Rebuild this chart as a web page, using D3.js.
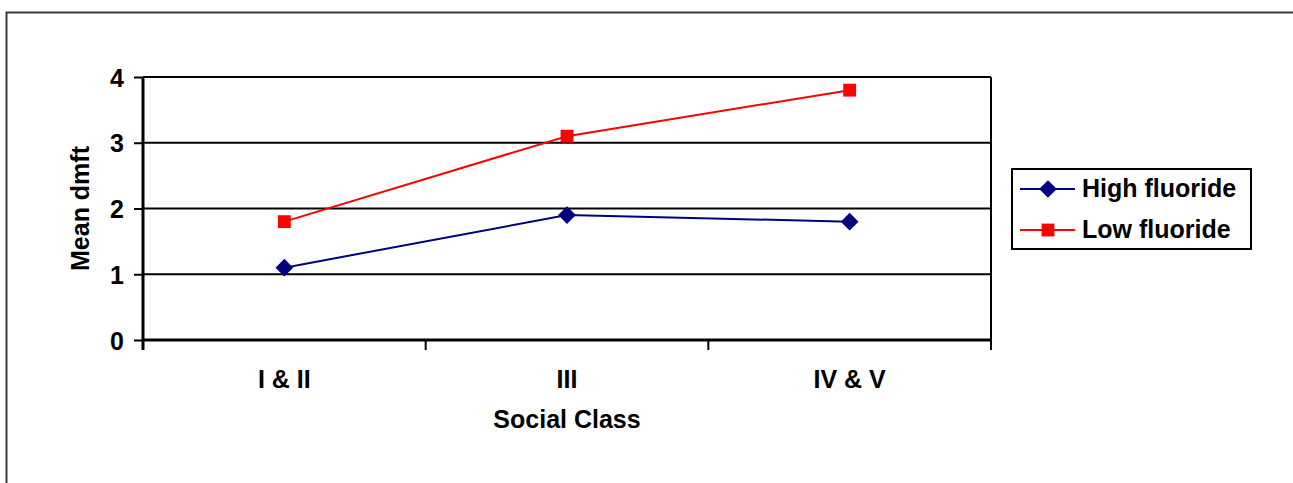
<!DOCTYPE html>
<html>
<head>
<meta charset="utf-8">
<script src="https://cdn.jsdelivr.net/npm/d3@7"></script>
<style>
  html, body { margin: 0; padding: 0; background: #fff; }
  svg { display: block; }
  text { font-family: Arial, "Liberation Sans", sans-serif; font-weight: bold; fill: #000; }
</style>
</head>
<body>
<svg id="chart" width="1293" height="483"></svg>
<script>
// Mean dmft by social class, high vs low fluoride areas
const categories = ["I & II", "III", "IV & V"];
const highFluoride = [1.1, 1.9, 1.8];
const lowFluoride = [1.8, 3.1, 3.8];
const yTicks = [0, 1, 2, 3, 4];

const seriesList = [
  { name: "High fluoride", values: highFluoride, color: "#000080", marker: d3.symbolDiamond2 },
  { name: "Low fluoride", values: lowFluoride, color: "#ff0000", marker: d3.symbolSquare2 }
];

const svg = d3.select("#chart");
const W = 1293, H = 483;
const plot = { left: 143, right: 991, top: 77, bottom: 340 };
const FONT = "25px";

// Outer chart frame
svg.append("rect")
  .attr("x", 6.5).attr("y", 12.5)
  .attr("width", W + 20).attr("height", H + 20)
  .attr("fill", "#fff").attr("stroke", "#3a3a3a").attr("stroke-width", 2);

const x = d3.scaleBand().domain(categories).range([plot.left, plot.right]).padding(0);
const y = d3.scaleLinear().domain([0, 4]).range([plot.bottom, plot.top]);

// Horizontal gridlines
svg.append("g")
  .selectAll("line")
  .data(yTicks)
  .join("line")
  .attr("x1", plot.left).attr("x2", plot.right)
  .attr("y1", d => y(d)).attr("y2", d => y(d))
  .attr("stroke", "#000").attr("stroke-width", 2);

// Right border of plot area
svg.append("line")
  .attr("x1", plot.right).attr("x2", plot.right)
  .attr("y1", plot.top).attr("y2", plot.bottom + 9)
  .attr("stroke", "#000").attr("stroke-width", 2);

// Y axis
const yAxis = svg.append("g")
  .attr("transform", `translate(${plot.left},0)`)
  .call(d3.axisLeft(y).tickValues(yTicks).tickFormat(d3.format("d")).tickSize(9).tickPadding(10));
yAxis.select(".domain").attr("stroke", "#000").attr("stroke-width", 3)
  .attr("d", `M0,${plot.top}V${plot.bottom + 10}`);
yAxis.selectAll(".tick line").attr("stroke", "#000").attr("stroke-width", 2);
yAxis.selectAll(".tick text").style("font-size", FONT).attr("dy", "0.36em");

// X axis baseline and boundary ticks
const xAxis = svg.append("g").attr("transform", `translate(0,${plot.bottom})`);
xAxis.append("line")
  .attr("x1", plot.left).attr("x2", plot.right)
  .attr("stroke", "#000").attr("stroke-width", 3);
const boundaries = categories.map(c => x(c)).concat([x(categories[categories.length - 1]) + x.bandwidth()]);
xAxis.selectAll("line.bt")
  .data(boundaries)
  .join("line")
  .attr("class", "bt")
  .attr("x1", d => d).attr("x2", d => d)
  .attr("y1", 0).attr("y2", 10)
  .attr("stroke", "#000").attr("stroke-width", 2);
xAxis.selectAll("text")
  .data(categories)
  .join("text")
  .attr("x", d => x(d) + x.bandwidth() / 2)
  .attr("y", 48)
  .attr("text-anchor", "middle")
  .style("font-size", FONT)
  .text(d => d);

// Axis titles
svg.append("text")
  .attr("x", (plot.left + plot.right) / 2)
  .attr("y", 428)
  .attr("text-anchor", "middle")
  .style("font-size", FONT)
  .text("Social Class");

svg.append("text")
  .attr("transform", `translate(89,${(plot.top + plot.bottom) / 2}) rotate(-90)`)
  .attr("text-anchor", "middle")
  .style("font-size", FONT)
  .text("Mean dmft");

// Series lines and markers
const line = d3.line()
  .x((d, i) => x(categories[i]) + x.bandwidth() / 2)
  .y(d => y(d));

seriesList.forEach(s => {
  const g = svg.append("g");
  g.append("path")
    .datum(s.values)
    .attr("d", line)
    .attr("fill", "none")
    .attr("stroke", s.color)
    .attr("stroke-width", 2);
  g.selectAll("path.mk")
    .data(s.values)
    .join("path")
    .attr("class", "mk")
    .attr("transform", (d, i) => `translate(${x(categories[i]) + x.bandwidth() / 2},${y(d)})`)
    .attr("d", d3.symbol().type(s.marker).size(s.marker === d3.symbolSquare2 ? 210 : 200))
    .attr("fill", s.color);
});

// Legend
const legend = svg.append("g");
legend.append("rect")
  .attr("x", 1012).attr("y", 169)
  .attr("width", 239).attr("height", 80)
  .attr("fill", "#fff").attr("stroke", "#000").attr("stroke-width", 2);
seriesList.forEach((s, i) => {
  const cy = 189 + i * 41;
  legend.append("line")
    .attr("x1", 1020).attr("x2", 1075)
    .attr("y1", cy).attr("y2", cy)
    .attr("stroke", s.color).attr("stroke-width", 2);
  legend.append("path")
    .attr("transform", `translate(1048,${cy})`)
    .attr("d", d3.symbol().type(s.marker).size(s.marker === d3.symbolSquare2 ? 210 : 200))
    .attr("fill", s.color);
  legend.append("text")
    .attr("x", 1082).attr("y", cy + 8)
    .style("font-size", FONT)
    .text(s.name);
});
</script>
</body>
</html>
